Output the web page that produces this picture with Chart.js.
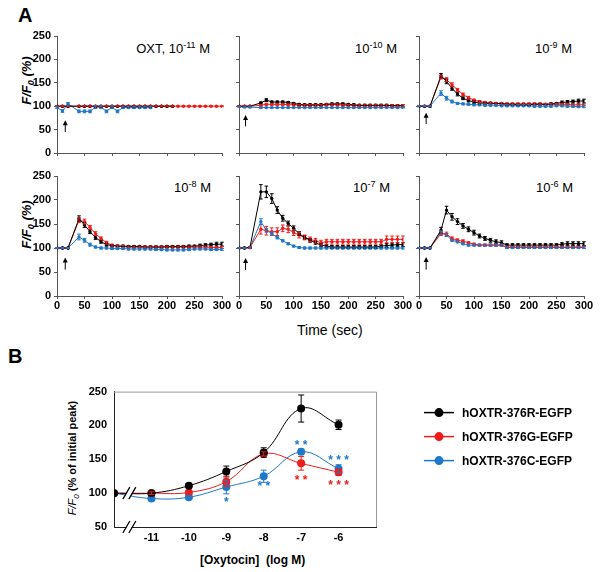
<!DOCTYPE html>
<html><head><meta charset="utf-8">
<script src="https://cdn.jsdelivr.net/npm/chart.js@4/dist/chart.umd.min.js"></script>
<style>
body{margin:0;width:600px;height:572px;position:relative;background:#fff;overflow:hidden;font-family:"Liberation Sans",Arial,sans-serif}
canvas{position:absolute}
.t{position:absolute;white-space:nowrap;color:#000;line-height:1}
.sup{font-size:9px;position:relative;top:-5px}
.sb{font-size:9px;position:relative;top:3px}
.rot{transform:rotate(-90deg);transform-origin:50% 50%;text-align:center}
</style></head>
<body>
<div class="t" style="left:18px;top:4px;font:bold 20px 'Liberation Sans'">A</div>
<div class="t" style="left:8px;top:345px;font:bold 20px 'Liberation Sans'">B</div>

<div class="t" style="right:390px;top:41px;font:13px 'Liberation Sans'">OXT, 10<span class="sup">-11</span> M</div>
<div class="t" style="right:203px;top:41px;font:13px 'Liberation Sans'">10<span class="sup">-10</span> M</div>
<div class="t" style="right:28px;top:41px;font:13px 'Liberation Sans'">10<span class="sup">-9</span> M</div>
<div class="t" style="right:389px;top:180px;font:13px 'Liberation Sans'">10<span class="sup">-8</span> M</div>
<div class="t" style="right:210px;top:180px;font:13px 'Liberation Sans'">10<span class="sup">-7</span> M</div>
<div class="t" style="right:27px;top:180px;font:13px 'Liberation Sans'">10<span class="sup">-6</span> M</div>

<div class="t rot" style="left:-24px;top:73px;width:100px;font:italic bold 13px 'Liberation Sans'">F/F<span class="sb">0</span> (%)</div>
<div class="t rot" style="left:-24px;top:217px;width:100px;font:italic bold 13px 'Liberation Sans'">F/F<span class="sb">0</span> (%)</div>
<div class="t" style="left:297px;top:322px;font:14px 'Liberation Sans'">Time (sec)</div>

<div class="t rot" style="left:2px;top:452px;width:140px;font:bold 11px 'Liberation Sans'"><i style="font-weight:normal">F/F<span class="sb" style="font-size:8px">0</span></i> (% of initial peak)</div>
<div class="t" style="left:200px;top:553px;font:bold 12px 'Liberation Sans'">[Oxytocin]&nbsp; (log M)</div>

<canvas id="a1" width="225" height="157" style="left:12px;top:24px"></canvas>
<canvas id="a2" width="224" height="157" style="left:194px;top:24px"></canvas>
<canvas id="a3" width="225" height="157" style="left:374px;top:24px"></canvas>
<canvas id="a4" width="225" height="160" style="left:12px;top:164px"></canvas>
<canvas id="a5" width="224" height="160" style="left:194px;top:164px"></canvas>
<canvas id="a6" width="225" height="160" style="left:374px;top:164px"></canvas>
<canvas id="b" width="546" height="194" style="left:54px;top:378px"></canvas>

<script>
// ---------- Panel A data (time in sec) ----------
const times=[0,10,20,40,50,60,70,80,90,100,110,120,130,140,150,160,170,180,190,200,210,220,230,240,250,260,270,280,290,300];

// 10^-11 M
const r11=[100,100,100,100,100,100,100,100,100,100,100,100,100,100,100,100,100,100,100,100,100,null,null,null,null,null,null,null,null,null];
const g11=[100,100,100,100,100,100,100,100,100,100,100,100,100,100,100,100,100,100,100,100,100,100,100,100,100,100,100,100,100,100];
const c11=[97,90,105,89,89,89,98,98,89,98,89,97,97,97,97,97,97,null,null,null,null,null,null,null,null,null,null,null,null,null];
const er11=[1,1,1,1,1,1,1,1,1,1,1,1,1,1,1,1,1,1,1,1,1,1,1,1,1,1,1,1,1,1];
const eg11=[1,1,1,1,1,1,1,1,1,1,1,1,1,1,1,1,1,1,1,1,1,1,1,1,1,1,1,1,1,1];
const ec11=[2,3,3,3,3,3,3,3,3,3,3,2,2,2,2,2,2,2,2,2,2,2,2,2,2,2,2,2,2,2];

// 10^-10 M
const r10=[100,100,100,107,113,109,109,109,108,106,104,103,103,103,103,104,105,105,105,104,103,102,102,102,102,102,102,101,101,101];
const g10=[100,100,100,102,104,104,104,104,103,103,102,102,102,102,102,103,103,103,102,102,101,101,101,101,101,101,101,101,101,101];
const c10=[99,98,98,97,97,97,97,97,97,97,97,97,97,97,97,97,97,97,97,97,97,97,97,97,97,97,97,97,97,97];
const er10=[1,1,1,2,3,2,2,2,2,2,2,2,2,2,2,2,2,2,2,2,2,2,2,2,2,2,2,2,2,2];
const eg10=[1,1,1,2,2,2,2,2,2,2,2,2,2,2,2,2,2,2,2,2,2,2,2,2,2,2,2,2,2,2];
const ec10=[1,1,1,1,1,1,1,1,1,1,1,1,1,1,1,1,1,1,1,1,1,1,1,1,1,1,1,1,1,1];

// 10^-9 M
const r9=[100,100,100,165,153,138,126,117,112,109,107,106,106,106,105,104,104,103,103,103,104,104,104,105,106,108,109,110,111,111];
const g9=[100,100,100,162,157,146,135,125,118,113,110,108,107,106,106,105,105,105,105,105,105,105,104,104,104,104,104,103,103,103];
const c9=[100,100,100,128,117,110,106,105,104,103,103,102,102,102,101,101,101,101,101,101,100,100,100,100,101,101,100,100,99,99];
const er9=[1,1,1,5,5,4,4,3,3,3,2,2,2,2,2,2,2,2,2,2,2,2,2,2,2,3,3,3,4,4];
const eg9=[1,1,1,4,4,4,3,3,3,2,2,2,2,2,2,2,2,2,2,2,2,2,2,2,2,2,2,2,2,2];
const ec9=[1,1,1,5,4,3,2,2,2,2,2,2,2,2,2,2,2,2,2,2,2,2,2,2,2,2,2,2,2,2];

// 10^-8 M
const r8=[100,100,100,161,148,134,122,113,107,105,104,104,103,103,103,102,102,102,102,103,103,103,103,104,104,105,106,107,108,108];
const g8=[100,100,100,158,155,143,130,120,111,106,104,103,102,102,102,102,102,102,102,102,102,102,102,102,102,102,102,101,101,101];
const c8=[100,100,100,123,116,107,102,100,100,99,99,99,98,98,98,98,98,97,97,96,96,96,96,97,98,98,98,97,97,97];
const er8=[1,1,1,6,5,4,4,3,3,2,2,2,2,2,2,2,2,2,2,2,2,2,2,2,2,3,3,3,4,4];
const eg8=[1,1,1,5,5,4,4,3,3,2,2,2,2,2,2,2,2,2,2,2,2,2,2,2,2,2,2,2,2,2];
const ec8=[1,1,1,6,4,3,2,2,2,2,2,2,2,2,2,2,2,2,2,2,2,2,2,2,2,2,2,2,2,2];

// 10^-7 M
const r7=[100,100,101,217,217,203,179,162,151,141,130,122,116,111,106,104,102,102,102,102,102,102,102,102,102,104,105,106,107,107];
const g7=[100,100,101,139,136,134,134,141,139,132,127,122,118,115,111,113,113,113,113,113,113,113,113,113,113,113,118,118,118,118];
const c7=[100,100,101,155,137,130,122,115,109,104,101,100,100,100,100,100,100,100,100,100,100,100,100,100,100,100,100,100,100,100];
const er7=[1,1,2,15,12,10,7,6,5,5,4,4,4,3,3,3,3,3,3,3,3,3,3,3,3,3,4,4,4,4];
const eg7=[1,1,2,10,9,8,8,7,7,6,6,5,5,5,5,5,5,5,5,5,5,5,5,5,5,5,7,7,7,7];
const ec7=[1,1,1,6,4,3,3,2,2,2,2,2,2,2,2,2,2,2,2,2,2,2,2,2,2,2,2,2,2,2];

// 10^-6 M
const r6=[100,100,100,137,179,165,155,146,139,132,125,120,116,113,111,106,106,106,106,106,106,106,106,106,106,108,109,109,109,109];
const g6=[100,100,100,130,129,120,116,114,111,108,106,106,106,106,106,102,102,102,102,102,102,102,102,102,102,102,102,102,102,102];
const c6=[100,100,100,132,127,116,113,109,106,106,106,106,106,106,106,101,101,101,101,101,101,101,101,101,101,101,101,101,101,101];
const er6=[1,1,1,6,8,7,6,5,5,5,4,4,4,4,4,3,3,3,3,3,3,3,3,3,3,3,4,4,4,4];
const eg6=[1,1,1,4,4,3,3,3,2,2,2,2,2,2,2,2,2,2,2,2,2,2,2,2,2,2,2,2,2,2];
const ec6=[1,1,1,4,3,2,2,2,2,2,2,2,2,2,2,2,2,2,2,2,2,2,2,2,2,2,2,2,2,2];

// OXT application arrow (time, from value, to value)
const arrowTime=[15,12,13,15,12,13];
const arrowFrom=[45,57,62,55,54,55];
const arrowTo=[70,81,86,80,79,81];

// ---------- Panel B data ----------
const seriesNames=['hOXTR-376R-EGFP','hOXTR-376G-EGFP','hOXTR-376C-EGFP'];
const logConc=[-12,-11,-10,-9,-8,-7,-6];
const bTickVals=[-11,-10,-9,-8,-7,-6];
const bR=[100,100,111,132,160,225,201];
const bG=[100,100,101,117,158,144,131];
const bC=[100,92,94,109,125,161,136];
const ebR=[0,2,3,8,7,20,7];
const ebG=[0,2,3,8,3,10,5];
const ebC=[0,2,3,10,9,4,6];
// significance marks
const sigX=[-9,-8,-7,-6,-7,-6];
const sigY=[91,114,175,153,123,116];
const sigText=['*','**','**','***','**','***'];
const sigSeries=[2,2,2,2,1,1];

const COLORS=['#000000','#ee1c1c','#1f78c8'];
const FONT="'Liberation Sans', Arial, sans-serif";

const errPlugin={
  id:'errs',
  afterDatasetsDraw(chart,args,opts){
    const ctx=chart.ctx, ys=chart.scales.y;
    const cw=opts.cap||2;
    chart.data.datasets.forEach((ds,i)=>{
      if(!ds.errs) return;
      const meta=chart.getDatasetMeta(i);
      ctx.save(); ctx.strokeStyle=ds.borderColor; ctx.lineWidth=opts.width||1;
      meta.data.forEach((pt,j)=>{
        const d=ds.data[j]; const e=ds.errs[j];
        if(!d||d.y==null||!e) return;
        const y1=ys.getPixelForValue(d.y+e), y2=ys.getPixelForValue(d.y-e);
        ctx.beginPath();
        ctx.moveTo(pt.x,y1); ctx.lineTo(pt.x,y2);
        ctx.moveTo(pt.x-cw,y1); ctx.lineTo(pt.x+cw,y1);
        ctx.moveTo(pt.x-cw,y2); ctx.lineTo(pt.x+cw,y2);
        ctx.stroke();
      });
      ctx.restore();
    });
  }
};
const arrowPlugin={
  id:'arrow',
  afterDraw(chart,args,o){
    if(o.x==null) return;
    const ctx=chart.ctx;
    const px=chart.scales.x.getPixelForValue(o.x);
    const y0=chart.scales.y.getPixelForValue(o.from), y1=chart.scales.y.getPixelForValue(o.to);
    ctx.save(); ctx.strokeStyle='#000'; ctx.fillStyle='#000'; ctx.lineWidth=1;
    ctx.beginPath(); ctx.moveTo(px,y0); ctx.lineTo(px,y1+3); ctx.stroke();
    ctx.beginPath(); ctx.moveTo(px,y1); ctx.lineTo(px-2.5,y1+5); ctx.lineTo(px+2.5,y1+5); ctx.closePath(); ctx.fill();
    ctx.restore();
  }
};

function pts(arr){return times.map((t,j)=>({x:t,y:arr[j]}));}

function makeA(id,r,g,c,er,eg,ec,showX,showY,k){
  const tickFont={family:FONT,size:11,weight:'bold'};
  const mk=(arr,err,col)=>({data:pts(arr),errs:err,borderColor:col,backgroundColor:col,borderWidth:1,pointRadius:1.7,pointBorderWidth:0,tension:0,spanGaps:false});
  new Chart(document.getElementById(id),{
    type:'line',
    data:{datasets:[mk(r,er,COLORS[0]),mk(g,eg,COLORS[1]),mk(c,ec,COLORS[2])]},
    options:{
      animation:false,responsive:false,events:[],
      layout:{padding:{top:12,right:15,left:0,bottom:0}},
      scales:{
        x:{type:'linear',min:0,max:300,
          ticks:{stepSize:50,display:showX,font:tickFont,color:'#000',padding:0,maxRotation:0},
          grid:{drawOnChartArea:false,tickLength:3,color:'#555'},border:{color:'#555'},
          afterFit:s=>{s.height=28;}},
        y:{type:'linear',min:0,max:250,
          ticks:{stepSize:50,display:showY,font:tickFont,color:'#000',padding:3},
          grid:{drawOnChartArea:false,tickLength:3,color:'#555'},border:{color:'#555'},
          afterFit:s=>{s.width=45;}}
      },
      plugins:{legend:{display:false},tooltip:{enabled:false},
        errs:{cap:1.8,width:1},
        arrow:{x:arrowTime[k],from:arrowFrom[k],to:arrowTo[k]}}
    },
    plugins:[errPlugin,arrowPlugin]
  });
}
makeA('a1',r11,g11,c11,er11,eg11,ec11,false,true,0);
makeA('a2',r10,g10,c10,er10,eg10,ec10,false,false,1);
makeA('a3',r9,g9,c9,er9,eg9,ec9,false,false,2);
makeA('a4',r8,g8,c8,er8,eg8,ec8,true,true,3);
makeA('a5',r7,g7,c7,er7,eg7,ec7,true,false,4);
makeA('a6',r6,g6,c6,er6,eg6,ec6,true,false,5);

// ---------- Panel B chart ----------
const bDecor={
  id:'bdecor',
  afterDraw(chart){
    const ctx=chart.ctx, a=chart.chartArea, xs=chart.scales.x, ys=chart.scales.y;
    ctx.save();
    ctx.strokeStyle='#999'; ctx.lineWidth=1;
    ctx.beginPath(); ctx.moveTo(a.left,a.top+0.5); ctx.lineTo(a.right+0.5,a.top+0.5); ctx.lineTo(a.right+0.5,a.bottom); ctx.stroke();
    const bx=xs.getPixelForValue(-11.55);
    [ys.getPixelForValue(100), a.bottom].forEach(cy=>{
      ctx.fillStyle='#fff';
      ctx.beginPath(); ctx.moveTo(bx-7,cy+6); ctx.lineTo(bx-1,cy-6); ctx.lineTo(bx+4,cy-6); ctx.lineTo(bx-2,cy+6); ctx.closePath(); ctx.fill();
      ctx.strokeStyle='#000'; ctx.lineWidth=1.3;
      ctx.beginPath();
      ctx.moveTo(bx-8,cy+6); ctx.lineTo(bx-1,cy-6);
      ctx.moveTo(bx-2,cy+6); ctx.lineTo(bx+5,cy-6);
      ctx.stroke();
    });
    ctx.font="bold 12px "+FONT; ctx.textAlign='center'; ctx.textBaseline='middle';
    sigX.forEach((x,i)=>{
      ctx.fillStyle=COLORS[sigSeries[i]];
      const txt=sigText[i].split('').join(' ');
      ctx.fillText(txt,xs.getPixelForValue(x),ys.getPixelForValue(sigY[i])+3);
    });
    ctx.textAlign='left';
    seriesNames.forEach((n,i)=>{
      const ly=a.top+21+i*24, lx=a.right+48;
      ctx.strokeStyle=COLORS[i]; ctx.fillStyle=COLORS[i]; ctx.lineWidth=1.5;
      ctx.beginPath(); ctx.moveTo(lx,ly); ctx.lineTo(lx+30,ly); ctx.stroke();
      ctx.beginPath(); ctx.arc(lx+15,ly,4.5,0,Math.PI*2); ctx.fill();
      ctx.fillStyle='#000'; ctx.font="bold 12px "+FONT;
      ctx.fillText(n,lx+38,ly+1);
    });
    ctx.restore();
  }
};
const bTickFont={family:FONT,size:11,weight:'bold'};
const mkB=(arr,err,col)=>({data:logConc.map((x,j)=>({x:x,y:arr[j]})),errs:err,borderColor:col,backgroundColor:col,borderWidth:1,pointRadius:4,pointBorderWidth:0,tension:0.4});
new Chart(document.getElementById('b'),{
  type:'line',
  data:{datasets:[mkB(bR,ebR,COLORS[0]),mkB(bG,ebG,COLORS[1]),mkB(bC,ebC,COLORS[2])]},
  options:{
    animation:false,responsive:false,events:[],
    layout:{padding:{top:12,right:224,left:0,bottom:0}},
    scales:{
      x:{type:'linear',min:-12,max:-5,
        afterBuildTicks:s=>{s.ticks=bTickVals.map(v=>({value:v}));},
        ticks:{font:bTickFont,color:'#000',padding:4,maxRotation:0},
        grid:{display:false,drawTicks:false},border:{color:'#222'},
        afterFit:s=>{s.height=45;}},
      y:{type:'linear',min:50,max:250,
        ticks:{stepSize:50,font:bTickFont,color:'#000',padding:7},
        grid:{display:false,drawTicks:false},border:{color:'#222'},
        afterFit:s=>{s.width=60;}}
    },
    plugins:{legend:{display:false},tooltip:{enabled:false},errs:{cap:3,width:1}}
  },
  plugins:[errPlugin,bDecor]
});
</script>
</body></html>
